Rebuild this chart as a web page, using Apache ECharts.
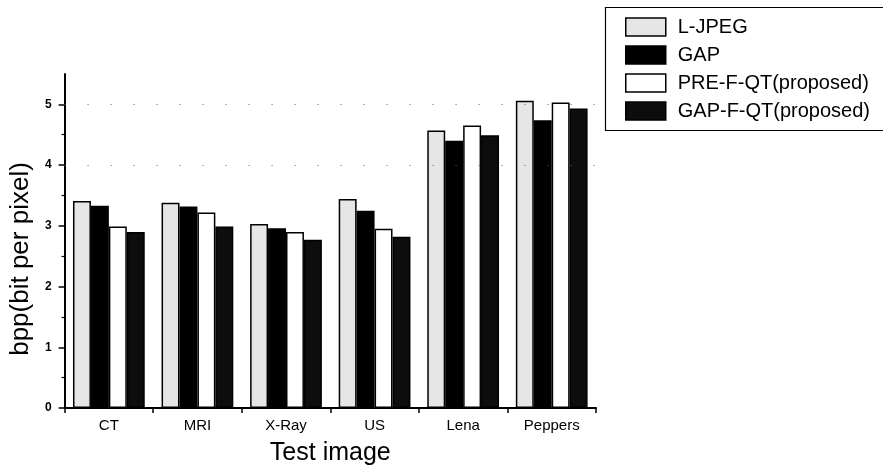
<!DOCTYPE html>
<html>
<head>
<meta charset="utf-8">
<script src="https://cdn.jsdelivr.net/npm/echarts@6/dist/echarts.min.js"></script>
<style>
  html, body { margin: 0; padding: 0; background: #fff; }
  #chart { width: 883px; height: 471px; }
</style>
</head>
<body>
<div id="chart"></div>
<script>
const categories = ['CT', 'MRI', 'X-Ray', 'US', 'Lena', 'Peppers'];
const seriesNames = ['L-JPEG', 'GAP', 'PRE-F-QT(proposed)', 'GAP-F-QT(proposed)'];
const lJpeg   = [3.41, 3.38, 3.03, 3.44, 4.57, 5.06];
const gap     = [3.33, 3.32, 2.96, 3.25, 4.40, 4.74];
const preFQt  = [2.99, 3.22, 2.90, 2.95, 4.65, 5.03];
const gapFQt  = [2.90, 2.99, 2.77, 2.82, 4.49, 4.93];
const yTicks  = [0, 1, 2, 3, 4, 5];
const refLevels = [4, 5];

const FONT = '"Liberation Sans", Arial, Helvetica, sans-serif';
const fills = ['#e6e6e6', '#000000', '#ffffff', '#0d0d0d'];
const values = [lJpeg, gap, preFQt, gapFQt];

const chart = echarts.init(document.getElementById('chart'), null, { renderer: 'canvas' });

const series = seriesNames.map((name, i) => ({
  name: name,
  type: 'bar',
  data: values[i],
  barGap: '0%',
  barCategoryGap: '19%',
  itemStyle: { color: fills[i], borderColor: '#000', borderWidth: 1.5 },
  emphasis: { disabled: true },
  markLine: i === 0 ? {
    silent: true,
    symbol: 'none',
    label: { show: false },
    lineStyle: { color: '#666', type: [1, 22], width: 1 },
    data: refLevels.map(v => ({ yAxis: v }))
  } : undefined
}));

chart.setOption({
  animation: false,
  backgroundColor: '#fff',
  grid: { left: 63, right: 287, top: 74, bottom: 63 },
  legend: {
    data: seriesNames,
    orient: 'vertical',
    left: 625,
    top: 17,
    padding: 0,
    itemGap: 8,
    itemWidth: 40,
    itemHeight: 18,
    icon: 'rect',
    itemStyle: { borderColor: '#000', borderWidth: 1.5 },
    textStyle: { fontFamily: FONT, fontSize: 20, color: '#000', padding: [0, 0, 0, 7] }
  },
  graphic: [{
    type: 'rect',
    left: 603, top: 5,
    shape: { width: 300, height: 123 },
    style: { fill: 'none', stroke: '#000', lineWidth: 1.2 },
    silent: true
  }],
  xAxis: {
    type: 'category',
    data: categories,
    name: 'Test image',
    nameLocation: 'middle',
    nameGap: 33,
    nameTextStyle: { fontFamily: FONT, fontSize: 25, color: '#000' },
    axisLine: { lineStyle: { color: '#000', width: 2 } },
    axisTick: { show: true, length: 5, lineStyle: { color: '#000', width: 1.5 } },
    axisLabel: { fontFamily: FONT, fontSize: 15, color: '#000', margin: 10 },
    splitLine: { show: false }
  },
  yAxis: {
    type: 'value',
    min: 0,
    max: 5.5,
    interval: 1,
    name: 'bpp(bit per pixel)',
    nameLocation: 'middle',
    nameGap: 29,
    nameTextStyle: { fontFamily: FONT, fontSize: 26, color: '#000', padding: [0, 36, 0, 0] },
    axisLine: { show: true, lineStyle: { color: '#000', width: 2 } },
    axisTick: { show: true, length: 6, customValues: yTicks, lineStyle: { color: '#000', width: 1.5 } },
    minorTick: { show: true, splitNumber: 2, length: 3, lineStyle: { color: '#000', width: 1.2 } },
    axisLabel: { fontFamily: FONT, fontSize: 12, fontWeight: 'bold', color: '#000', margin: 13, customValues: yTicks },
    splitLine: { show: false }
  },
  series: series
});
</script>
</body>
</html>
